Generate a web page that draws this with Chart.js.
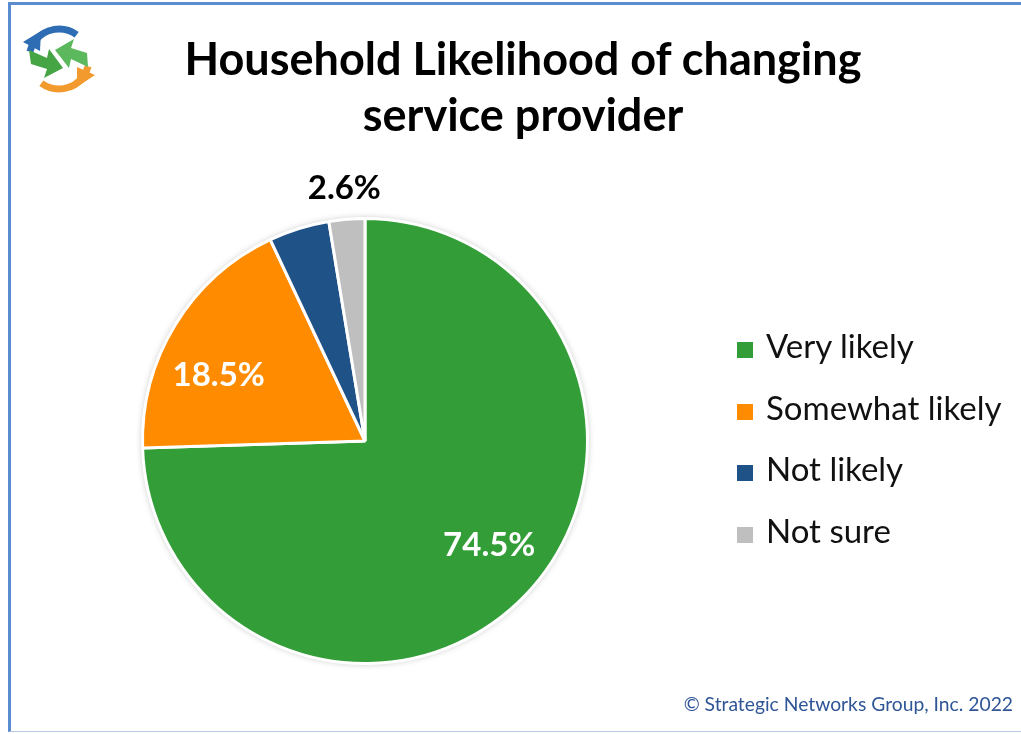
<!DOCTYPE html>
<html>
<head>
<meta charset="utf-8">
<script src="https://cdn.jsdelivr.net/npm/chart.js@4.4.1/dist/chart.umd.min.js"></script>
<style>
  html, body { margin: 0; padding: 0; background: #fff; }
  #wrap { position: relative; width: 1021px; height: 734px; overflow: hidden; font-family: Lato, "Noto Sans", sans-serif; }
  #frame { position: absolute; left: 8px; top: 2px; width: 1030px; height: 730px; border-left: 3px solid #5b8bd0; border-top: 3px solid #5b8bd0; border-bottom: 1px solid #b8c9e6; box-sizing: border-box; }
  #pie { position: absolute; left: 0; top: 0; }
  #title { position: absolute; left: 0; width: 1046px; top: 30px; text-align: center; font-weight: 700; font-size: 45px; line-height: 56px; color: #000; }
  #legend { position: absolute; left: 737px; top: 325px; }
  .item { height: 61.5px; display: flex; align-items: flex-start; font-size: 33px; color: #111; }
  .box { width: 16px; height: 16px; margin-top: 17px; margin-right: 13px; }
  #footer { position: absolute; right: 8px; top: 692px; font-size: 19.3px; color: #2f5597; }
  #logo { position: absolute; left: 20px; top: 20px; }
</style>
</head>
<body>
<div id="wrap">
  <div id="frame"></div>
  <canvas id="logo" width="78" height="78"></canvas>
  <canvas id="pie" width="1021" height="734"></canvas>
  <div id="title">Household Likelihood of changing<br>service provider</div>
  <div id="legend"></div>
  <div id="footer">© Strategic Networks Group, Inc. 2022</div>
</div>
<script>
// Household likelihood of changing provider (percent)
const categories = ['Very likely', 'Somewhat likely', 'Not likely', 'Not sure'];
const shares = [74.5, 18.5, 4.4, 2.6];
const shownLabels = ['74.5%', '18.5%', '', '2.6%'];
const sliceColors = ['#339e37', '#ff8c00', '#1f5287', '#bfbfbf'];

// legend
const legend = document.getElementById('legend');
categories.forEach((c, i) => {
    const row = document.createElement('div');
    row.className = 'item';
    row.innerHTML = '<span class="box" style="background:' + sliceColors[i] + '"></span>' + c;
    legend.appendChild(row);
});

// little logo with circling arrows
(function() {
    const ctx = document.getElementById('logo').getContext('2d');
    const cx = 39, cy = 39, r = 30;
    // blue arc on top
    ctx.strokeStyle = '#2e6db4';
    ctx.lineWidth = 7;
    ctx.beginPath();
    ctx.arc(cx, cy, r, -0.3 * Math.PI, -0.92 * Math.PI, true);
    ctx.stroke();
    ctx.fillStyle = '#2e6db4';
    ctx.beginPath();
    ctx.moveTo(3, 22); ctx.lineTo(21, 11); ctx.lineTo(20, 31); ctx.closePath();
    ctx.fill();
    // orange arc on bottom
    ctx.strokeStyle = '#f39a2e';
    ctx.beginPath();
    ctx.arc(cx, cy, r, 0.7 * Math.PI, 0.08 * Math.PI, true);
    ctx.stroke();
    ctx.fillStyle = '#f39a2e';
    ctx.beginPath();
    ctx.moveTo(75, 55); ctx.lineTo(57, 67); ctx.lineTo(57, 47); ctx.closePath();
    ctx.fill();
    // green arrows
    ctx.fillStyle = '#45a545';
    ctx.beginPath();
    ctx.moveTo(9, 30); ctx.lineTo(27, 38); ctx.lineTo(29, 29); ctx.lineTo(43, 48); ctx.lineTo(24, 58); ctx.lineTo(27, 49); ctx.lineTo(11, 44); ctx.closePath();
    ctx.fill();
    ctx.fillStyle = '#5cb85c';
    ctx.beginPath();
    ctx.moveTo(68, 47); ctx.lineTo(51, 39); ctx.lineTo(49, 48); ctx.lineTo(35, 30); ctx.lineTo(54, 19); ctx.lineTo(51, 28); ctx.lineTo(67, 33); ctx.closePath();
    ctx.fill();
})();

// soft shadow behind the pie
const pieShadow = {
    id: 'pieShadow',
    beforeDatasetsDraw(chart) {
        const ctx = chart.ctx;
        const arc = chart.getDatasetMeta(0).data[0];
        ctx.save();
        ctx.shadowColor = 'rgba(0,0,0,0.28)';
        ctx.shadowBlur = 7;
        ctx.fillStyle = '#fff';
        ctx.beginPath();
        ctx.arc(arc.x, arc.y, arc.outerRadius, 0, Math.PI * 2);
        ctx.fill();
        ctx.restore();
    }
};

// percentage labels on / above the slices (angle nudge in radians, radius factor)
const labelNudge = [[-0.07, 0.73], [-0.13, 0.72], [0, 0], [0, 1]];
const sliceLabels = {
    id: 'sliceLabels',
    afterDatasetsDraw(chart) {
        const ctx = chart.ctx;
        ctx.save();
        ctx.font = 'bold 33px Lato, "Noto Sans", sans-serif';
        ctx.textAlign = 'center';
        ctx.textBaseline = 'middle';
        chart.getDatasetMeta(0).data.forEach((arc, i) => {
            if (!shownLabels[i]) return;
            const mid = (arc.startAngle + arc.endAngle) / 2 + labelNudge[i][0];
            const outside = shares[i] < 3;
            const dist = outside ? arc.outerRadius + 31 : arc.outerRadius * labelNudge[i][1];
            ctx.fillStyle = outside ? '#000' : '#fff';
            ctx.fillText(shownLabels[i], arc.x + Math.cos(mid) * dist, arc.y + Math.sin(mid) * dist);
        });
        ctx.restore();
    }
};

new Chart(document.getElementById('pie'), {
    type: 'pie',
    data: {
        labels: categories,
        datasets: [{
            data: shares,
            backgroundColor: sliceColors,
            borderColor: '#fff',
            borderWidth: 3
        }]
    },
    options: {
        responsive: false,
        animation: false,
        layout: { padding: { left: 141, top: 217, right: 432, bottom: 69 } },
        plugins: {
            legend: { display: false },
            tooltip: { enabled: false }
        }
    },
    plugins: [pieShadow, sliceLabels]
});
</script>
</body>
</html>
